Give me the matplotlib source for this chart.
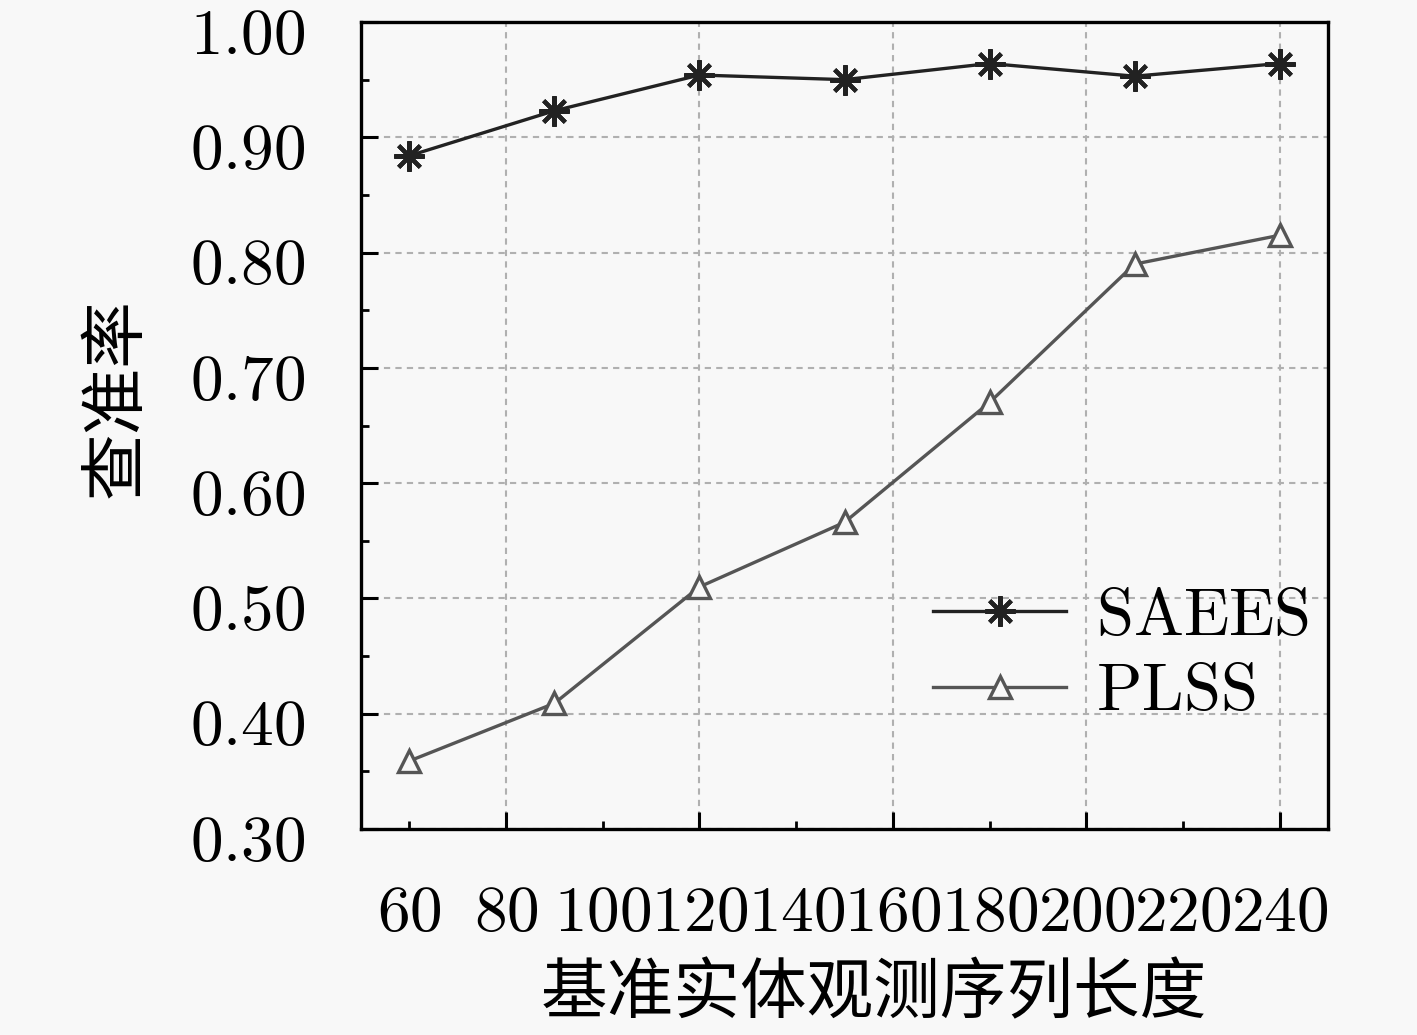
import matplotlib
matplotlib.use("Agg")
import matplotlib.pyplot as plt
import matplotlib.transforms as mtransforms

plt.rcParams['mathtext.fontset'] = 'cm'
plt.rcParams['font.family'] = ['Noto Sans CJK SC', 'DejaVu Sans']

x_vals = [60, 90, 120, 150, 180, 210, 240]
saees = [0.884, 0.923, 0.954, 0.950, 0.964, 0.953, 0.964]
plss = [0.359, 0.409, 0.510, 0.566, 0.670, 0.790, 0.815]
major_x = [80, 120, 160, 200, 240]
minor_x = [60, 100, 140, 180, 220]
y_major = [0.30, 0.40, 0.50, 0.60, 0.70, 0.80, 0.90, 1.00]
y_minor = [0.35, 0.45, 0.55, 0.65, 0.75, 0.85, 0.95]
xlabel = '基准实体观测序列长度'
ylabel = '查准率'
series_names = ['SAEES', 'PLSS']

bg = '#f8f8f8'
fig = plt.figure(figsize=(14.17, 10.35), dpi=100, facecolor=bg)
ax = fig.add_axes([361/1417, 1-829/1035, (1328-361)/1417, (829-22)/1035])
ax.set_facecolor(bg)

ax.plot(x_vals, saees, color='#222222', lw=2.4, marker=(8, 2, 0), ms=22,
        mew=3.0, mec='#222222', label=r'$\mathrm{%s}$' % series_names[0], zorder=3)
ax.plot(x_vals, plss, color='#555555', lw=2.4, marker='^', ms=16,
        mew=2.4, mec='#555555', mfc=bg, label=r'$\mathrm{%s}$' % series_names[1], zorder=3)

ax.set_xlim(50, 250)
ax.set_ylim(0.30, 1.00)
ax.set_xticks(major_x, [r'$%d$' % v for v in major_x])
ax.set_xticks(minor_x, [r'$%d$' % v for v in minor_x], minor=True)
ax.set_yticks(y_major, [r'$%.2f$' % v for v in y_major])
ax.set_yticks(y_minor, minor=True)

ax.tick_params(axis='both', which='major', direction='in', length=12, width=2.2,
               labelsize=47, color='black')
ax.tick_params(axis='both', which='minor', direction='in', length=6, width=2.0,
               labelsize=47, color='black')
ax.tick_params(axis='y', which='both', pad=40)
ax.tick_params(axis='x', which='both', pad=36)

offset = mtransforms.ScaledTranslation(0, -6/100, fig.dpi_scale_trans)
for lab in ax.get_yticklabels():
    lab.set_transform(lab.get_transform() + offset)

ax.grid(True, which='major', color='#b0b0b0', ls=(0, (3, 2.5)), lw=1.5)
for s in ax.spines.values():
    s.set_linewidth(2.4)

ax.set_xlabel(xlabel, fontsize=48, labelpad=10)
ax.xaxis.set_label_coords((874-361)/967, (829-995)/807)
ax.xaxis.label.set_va('center')
ax.set_ylabel(ylabel, fontsize=48)
ax.yaxis.set_label_coords((117-361)/967, (829-398)/807)
ax.yaxis.label.set_va('center')

leg = ax.legend(loc='upper left', bbox_to_anchor=((933-361)/967, (829-582)/807),
                frameon=False, fontsize=48, handlelength=2.0, handletextpad=0.45,
                labelspacing=0.12, borderpad=0, borderaxespad=0)

fig.savefig('out.png', dpi=100, facecolor=bg)
